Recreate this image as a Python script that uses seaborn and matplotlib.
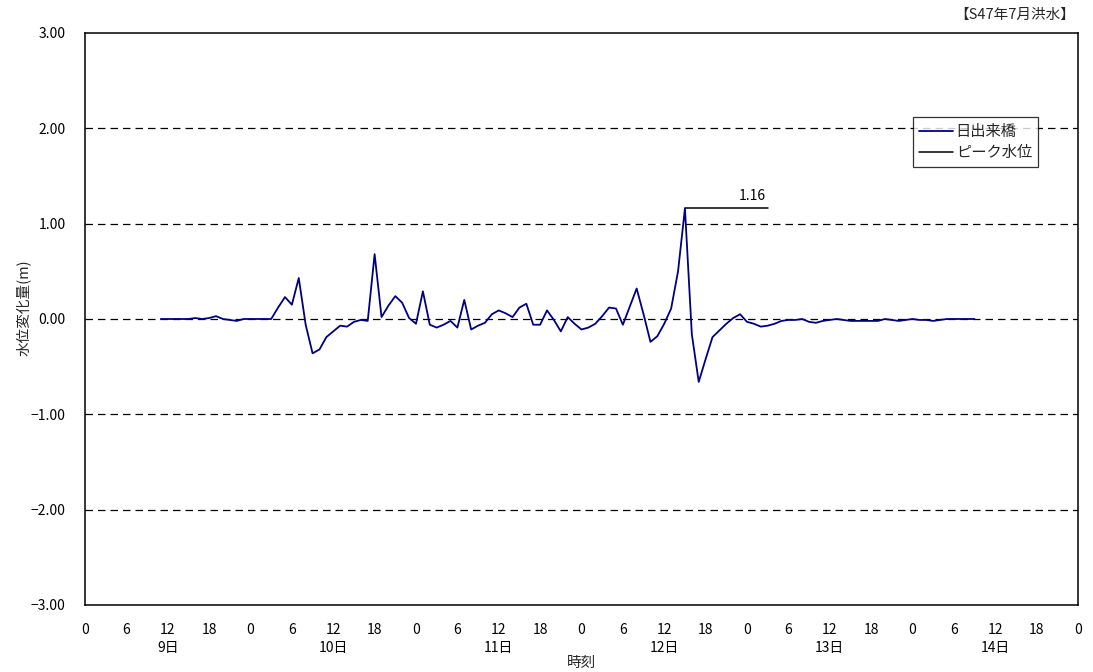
import matplotlib
matplotlib.use("Agg")
import matplotlib.pyplot as plt
import seaborn as sns
import pandas as pd

# ---- data ----
start_hour = 11  # hours since 9日 0:00
water_change = [
    0.00, 0.00, 0.00, 0.00, 0.00, 0.01, 0.00, 0.01, 0.03, 0.00,   # h11-20
    -0.01, -0.02, 0.00, 0.00, 0.00, 0.00, 0.00, 0.12, 0.23, 0.15,  # h21-30
    0.43, -0.06, -0.36, -0.32, -0.19, -0.13, -0.07, -0.08, -0.03, -0.01,  # h31-40
    -0.02, 0.68, 0.02, 0.14, 0.24, 0.17, 0.01, -0.05, 0.29, -0.06,  # h41-50
    -0.09, -0.06, -0.02, -0.09, 0.20, -0.11, -0.07, -0.04, 0.05, 0.09,  # h51-60
    0.06, 0.02, 0.12, 0.16, -0.06, -0.06, 0.09, -0.01, -0.13, 0.02,  # h61-70
    -0.05, -0.11, -0.09, -0.05, 0.03, 0.12, 0.11, -0.06, 0.13, 0.32,  # h71-80
    0.05, -0.24, -0.18, -0.05, 0.11, 0.50, 1.16, -0.16, -0.66, -0.42,  # h81-90
    -0.19, -0.12, -0.05, 0.01, 0.05, -0.03, -0.05, -0.08, -0.07, -0.05,  # h91-100
    -0.02, -0.01, -0.01, 0.00, -0.03, -0.04, -0.02, -0.01, 0.00, -0.01,  # h101-110
    -0.02, -0.02, -0.02, -0.02, -0.02, 0.00, -0.01, -0.02, -0.01, 0.00,  # h111-120
    -0.01, -0.01, -0.02, -0.01, 0.00, 0.00, 0.00, 0.00, 0.00,  # h121-129
]
hours = list(range(start_hour, start_hour + len(water_change)))

peak_value = 1.16
peak_hour = 87
peak_line_end = 99
peak_label = "1.16"

series_name = "日出来橋"
peak_name = "ピーク水位"
title_text = "【S47年7月洪水】"
ylabel_text = "水位変化量(m)"
xlabel_text = "時刻"
day_labels = ["9日", "10日", "11日", "12日", "13日", "14日"]
hour_labels = ["0", "6", "12", "18"]
y_ticks = [-3, -2, -1, 0, 1, 2, 3]

df = pd.DataFrame({"hour": hours, "value": water_change})

# ---- style ----
sns.set_style("white")
plt.rcParams["font.family"] = ["Noto Sans CJK JP", "DejaVu Sans"]
plt.rcParams["axes.unicode_minus"] = True

fig = plt.figure(figsize=(10.93, 6.72), dpi=100)
ax = fig.add_axes([85 / 1093, 67 / 672, (1078 - 85) / 1093, (605 - 33) / 672])

# grid lines (dashed) at interior y ticks
for yv in y_ticks[1:-1]:
    ax.axhline(yv, color="black", lw=0.9, ls=(0, (6, 4)), zorder=1)

sns.lineplot(data=df, x="hour", y="value", ax=ax, color="#000080",
             lw=1.3, label=series_name, zorder=3)

# peak level line
peak_df = pd.DataFrame({"hour": [peak_hour, peak_line_end],
                        "value": [peak_value, peak_value]})
sns.lineplot(data=peak_df, x="hour", y="value", ax=ax, color="black",
             lw=1.1, label=peak_name, zorder=3)
ax.text(peak_line_end - 0.3, peak_value + 0.06, peak_label, ha="right",
        va="bottom", fontsize=10, color="black")

# axes
ax.set_xlim(0, 144)
ax.set_ylim(-3, 3)
ax.set_yticks(y_ticks)
ax.set_yticklabels([f"{v:.2f}".replace("-", "\u2212") for v in y_ticks])

xt = list(range(0, 145, 6))
xl = []
for t in xt:
    hl = hour_labels[(t // 6) % 4]
    if t % 24 == 12:
        hl = hl + "\n" + day_labels[t // 24]
    xl.append(hl)
ax.set_xticks(xt)
ax.set_xticklabels(xl, linespacing=1.35)

ax.tick_params(axis="both", direction="in", length=4, width=1,
               colors="black", labelsize=10)
ax.tick_params(axis="x", pad=13)
ax.tick_params(axis="y", pad=14)
for lab in ax.get_xticklabels():
    lab.set_verticalalignment("top")

for sp in ax.spines.values():
    sp.set_color("black")
    sp.set_linewidth(1.1)

ax.set_xlabel(xlabel_text, fontsize=10.5, labelpad=1)
ax.set_ylabel(ylabel_text, fontsize=10.5, labelpad=3)
ax.yaxis.set_label_coords(-0.055, 0.52)

fig.text(1075 / 1093, 1 - 15 / 672, title_text, ha="right", va="center",
         fontsize=10.5)

leg = ax.legend(loc="upper left", bbox_to_anchor=(913 / 1093, 1 - 117 / 672),
                bbox_transform=fig.transFigure, frameon=True, fancybox=False,
                edgecolor="black", fontsize=11, handlelength=2.2,
                handletextpad=0.2, borderpad=0.4, labelspacing=0.25,
                borderaxespad=0)
leg.get_frame().set_linewidth(0.9)

fig.savefig("out.png", dpi=100)
